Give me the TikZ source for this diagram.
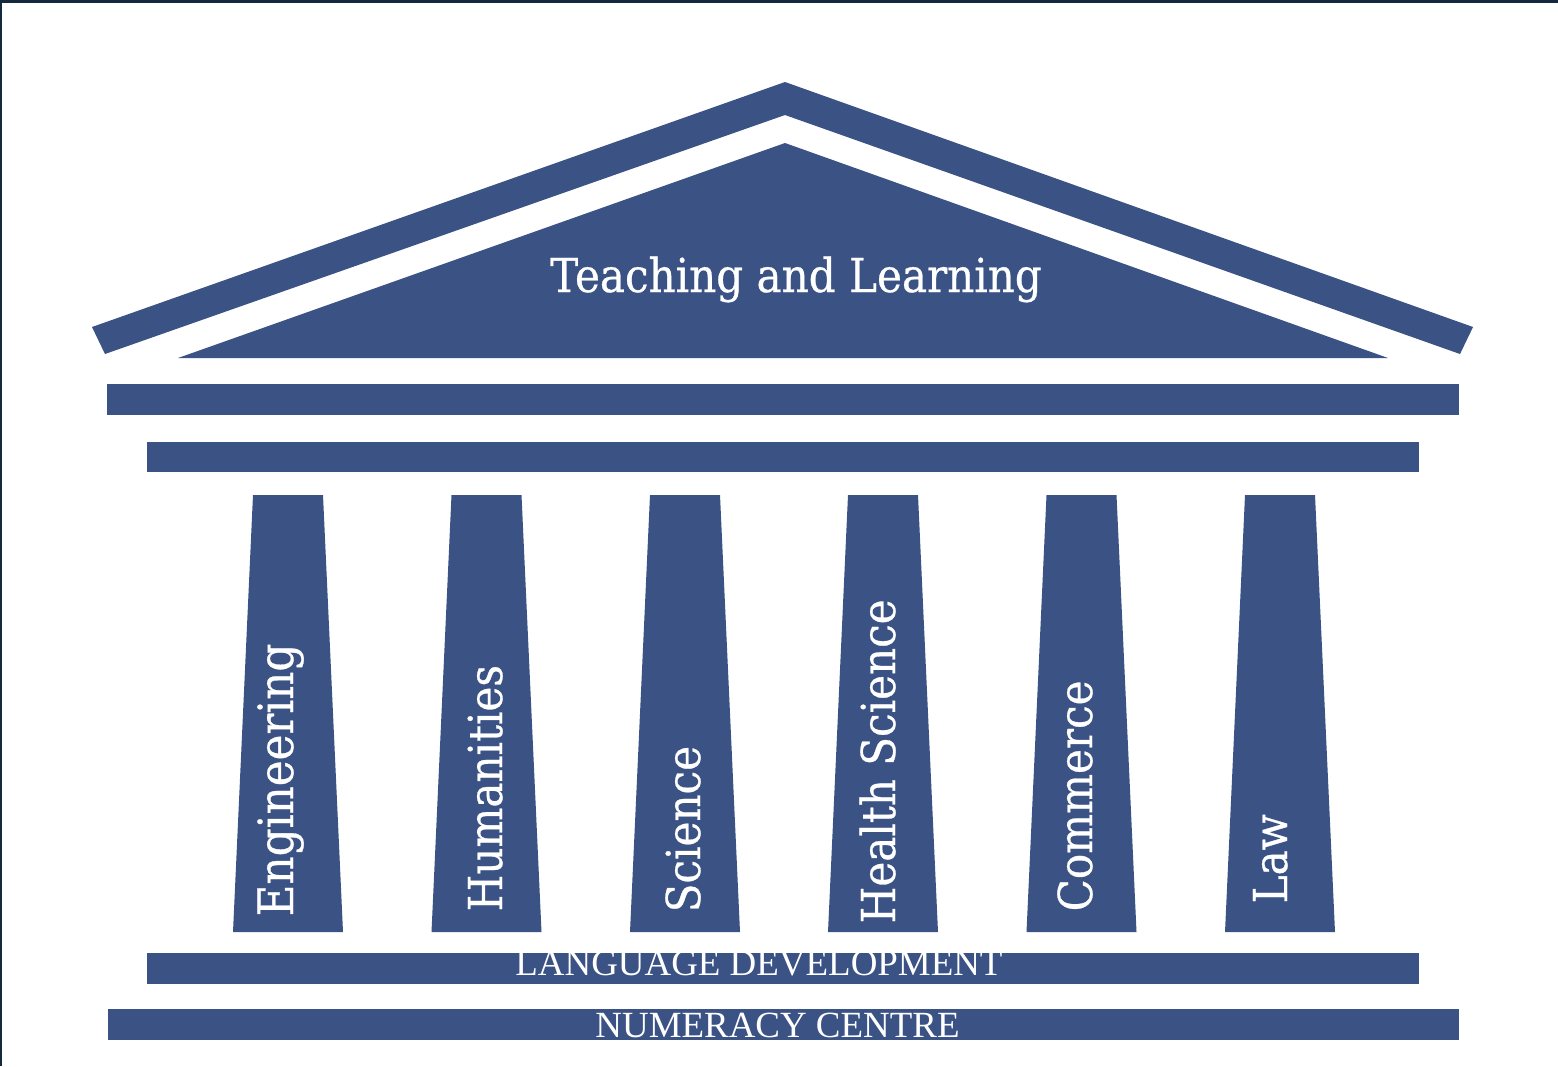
\documentclass[tikz,border=0pt]{standalone}
\usepackage{fontspec}
\setmainfont{Liberation Serif}
\newfontfamily\slabfont[FakeStretch=0.9, FakeBold=0.6]{DejaVu Serif}
\usetikzlibrary{positioning}
\definecolor{templeblue}{RGB}{59,82,133}
\definecolor{frameedge}{RGB}{20,40,62}

\begin{document}
\begin{tikzpicture}[x=0.01cm, y=-0.01cm]

        % Styles
        \tikzstyle{part} = [fill=templeblue, draw=none]
        \tikzstyle{pillarlabel} = [text=white, rotate=90, anchor=base west, inner sep=0pt, font=\slabfont\fontsize{13.3}{16}\selectfont]
        \tikzstyle{baselabel} = [text=white, anchor=base, inner sep=0pt, font=\fontsize{10.5}{12}\selectfont]

        \useasboundingbox (0,0) rectangle (1558,1066);
        \fill[white] (0,0) rectangle (1558,1066);
        \fill[frameedge] (0,0) rectangle (1558,3);
        \fill[frameedge] (0,0) rectangle (2,1066);

        % Roof
        \fill[part] (92,327) -- (785,82) -- (1473,327) -- (1460,354) -- (785,115) -- (105,354) -- cycle;
        \fill[part] (178,358) -- (785,143) -- (1388,358) -- cycle;
        \node[text=white, anchor=base, inner sep=0pt, font=\slabfont\fontsize{13.3}{16}\selectfont] (title) at (796,292) {Teaching and Learning};

        % Beams
        \fill[part] (107,384) rectangle (1459,415);
        \fill[part] (147,442) rectangle (1419,472);

        % Pillars
        \foreach \c in {288,486.5,685,883,1081.5,1280}
            \fill[part] (\c-35,495) -- (\c+35,495) -- (\c+55,932) -- (\c-55,932) -- cycle;

        % Pillar labels
        \node[pillarlabel, font=\slabfont\fontsize{13.8}{16}\selectfont] (eng) at (293,917) {Engineering};
        \node[pillarlabel] (hum) at (502,912) {Humanities};
        \node[pillarlabel] (sci) at (700,913) {Science};
        \node[pillarlabel] (hsci) at (895,924) {Health Science};
        \node[pillarlabel] (com) at (1092,912) {Commerce};
        \node[pillarlabel] (law) at (1287,904) {Law};

        % Foundation
        \fill[part] (147,953) rectangle (1419,984);
        \fill[part] (108,1009) rectangle (1459,1040);
        \node[baselabel] (lang) at (759,975) {LANGUAGE DEVELOPMENT};
        \node[baselabel] (num) at (777.5,1037) {NUMERACY CENTRE};

\end{tikzpicture}
\end{document}
